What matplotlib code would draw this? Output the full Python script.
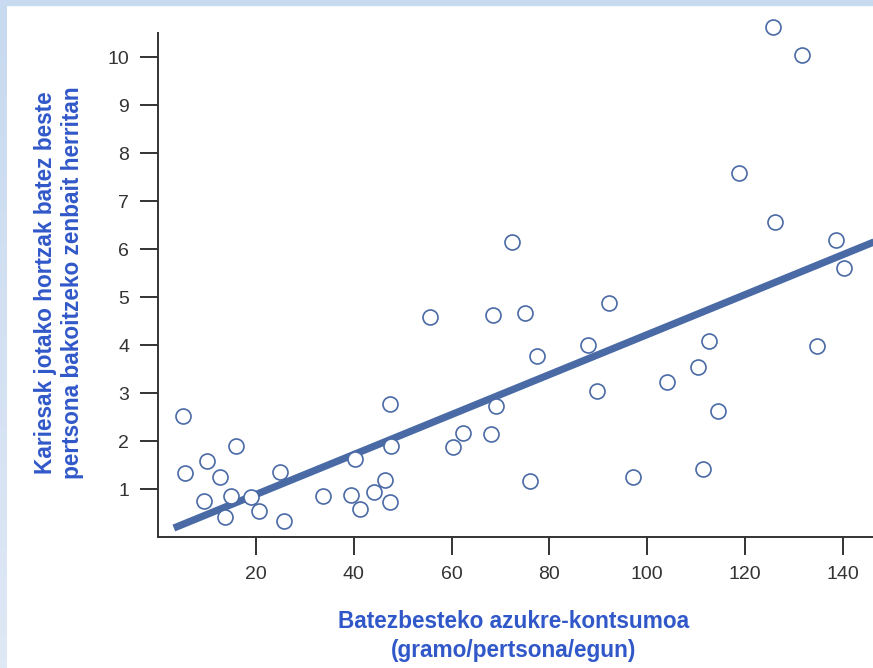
import numpy as np
import matplotlib.pyplot as plt
from matplotlib.patches import Rectangle

# Sugar consumption (g/person/day) vs decayed teeth per person
sugar = [5.1, 5.4, 10.0, 12.6, 16.0, 9.3, 14.8, 13.6, 19.0, 20.6,
         25.0, 25.7, 33.7, 39.4, 40.3, 41.2, 44.1, 46.4, 47.5, 47.7,
         47.5, 55.6, 60.2, 62.4, 68.0, 68.5, 69.0, 72.4, 75.0, 76.0,
         77.5, 87.9, 89.7, 92.1, 97.0, 104.0, 110.4, 111.4, 112.7, 114.5,
         118.8, 125.8, 126.1, 131.7, 134.7, 138.7, 140.2]
caries = [2.53, 1.33, 1.59, 1.26, 1.90, 0.76, 0.86, 0.42, 0.83, 0.54,
          1.35, 0.33, 0.86, 0.88, 1.63, 0.58, 0.95, 1.19, 0.73, 1.91,
          2.77, 4.58, 1.89, 2.17, 2.15, 4.62, 2.73, 6.15, 4.67, 1.18,
          3.77, 4.00, 3.05, 4.87, 1.25, 3.24, 3.55, 1.42, 4.08, 2.64,
          7.58, 10.63, 6.56, 10.05, 3.98, 6.19, 5.60]

# regression line
fit_intercept = 0.06
fit_slope = 0.0416
fit_x = [3.2, 150]

xticks = [20, 40, 60, 80, 100, 120, 140]
yticks = [1, 2, 3, 4, 5, 6, 7, 8, 9, 10]

xlabel = "Batezbesteko azukre-kontsumoa\n(gramo/pertsona/egun)"
ylabel = "Kariesak jotako hortzak batez beste\npertsona bakoitzeko zenbait herritan"

blue = '#4a6aa6'
label_blue = '#3158c9'
dark = '#333333'

plt.rcParams['font.family'] = ['Liberation Sans', 'DejaVu Sans']

W, H = 873, 668
fig = plt.figure(figsize=(W / 100, H / 100), dpi=100)

# light blue frame on the top and left edges
fig.patches.append(Rectangle((0, 1 - 5 / H), 1, 5 / H, transform=fig.transFigure,
                             color='#c8daf0', zorder=0))
strip = fig.add_axes([0, 0, 7 / W, 1 - 5 / H])
strip.imshow(np.linspace(0, 1, 100).reshape(-1, 1), aspect='auto',
             cmap=plt.matplotlib.colors.LinearSegmentedColormap.from_list(
                 'edge', ['#c8daf0', '#dfe8f5']))
strip.axis('off')

ax = fig.add_axes([158.2 / W, 1 - 537.3 / H, 1 - 158.2 / W, (537.3 - 33) / H])
ax.set_xlim(0, (W - 158.2) / 4.89)
ax.set_ylim(0, 10.5)

fx = np.array(fit_x)
ax.plot(fx, fit_intercept + fit_slope * fx, color=blue, lw=5.2, solid_capstyle='butt', zorder=2)
ax.plot(sugar, caries, 'o', ms=10.8, mfc='white', mec=blue, mew=1.2,
        clip_on=False, zorder=3)

for s in ['top', 'right']:
    ax.spines[s].set_visible(False)
for s in ['left', 'bottom']:
    ax.spines[s].set_color(dark)
    ax.spines[s].set_linewidth(1.4)

ax.set_xticks(xticks)
ax.set_yticks(yticks)
ax.tick_params(length=13, width=1.4, color=dark, labelcolor=dark, labelsize=14, pad=8)

fig.text(514 / W, 1 - 636 / H, xlabel, ha='center', va='center', color=label_blue,
         fontsize=16.3, fontweight='bold', linespacing=1.34)
fig.text(59 / W, 1 - 283 / H, ylabel, ha='center', va='center', rotation=90,
         color=label_blue, fontsize=16.3, fontweight='bold', linespacing=1.27)

fig.savefig('out.png', dpi=100)
